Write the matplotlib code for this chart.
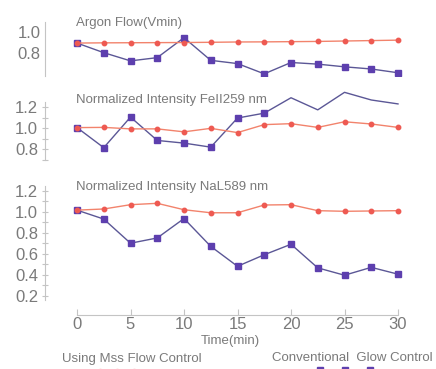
import matplotlib
matplotlib.use("Agg")
import matplotlib.pyplot as plt
from matplotlib.lines import Line2D

plt.rcParams['font.family'] = ['Liberation Sans', 'DejaVu Sans']

# ---- data ----
time_min = [0, 2.5, 5, 7.5, 10, 12.5, 15, 17.5, 20, 22.5, 25, 27.5, 30]
argon_mfc = [0.895, 0.897, 0.898, 0.899, 0.900, 0.902, 0.905, 0.906, 0.908, 0.910, 0.914, 0.918, 0.922]
argon_conv = [0.895, 0.806, 0.730, 0.760, 0.945, 0.735, 0.705, 0.610, 0.715, 0.700, 0.675, 0.655, 0.620]
fe_mfc = [1.005, 1.007, 0.993, 0.993, 0.965, 0.998, 0.958, 1.033, 1.042, 1.007, 1.060, 1.039, 1.007]
fe_conv = [1.005, 0.816, 1.104, 0.884, 0.859, 0.821, 1.095, 1.141, 1.286, 1.172, 1.337, 1.265, 1.228]
na_mfc = [1.015, 1.026, 1.067, 1.080, 1.019, 0.990, 0.990, 1.064, 1.067, 1.010, 1.004, 1.007, 1.010]
na_conv = [1.015, 0.930, 0.700, 0.750, 0.935, 0.670, 0.480, 0.590, 0.690, 0.465, 0.395, 0.470, 0.405]

titles = ["Argon Flow(Vmin)", "Normalized Intensity FeII259 nm", "Normalized Intensity NaL589 nm"]
x_ticks = [0, 5, 10, 15, 20, 25, 30]
legend_labels = ["Using Mss Flow Control", "Conventional  Glow Control"]

W, H = 436, 369
fig = plt.figure(figsize=(W / 100, H / 100), dpi=100)

ORANGE_LINE = '#f2836c'
ORANGE_MK = '#ee5a52'
BLUE_LINE = '#5b5796'
BLUE_MK = '#5d3fae'
GRAY = '#7a7a7a'
SPINE = '#c4c4c4'


def px_axes(x0, y0, x1, y1):
    return fig.add_axes([x0 / W, 1 - y1 / H, (x1 - x0) / W, (y1 - y0) / H])


X0, X1 = 45, 410
xscale = (398 - 77) / 30.0
xlim = (-(77 - X0) / xscale, 30 + (X1 - 398) / xscale)


def style(ax, ylim, yticks, ylabels, ticklen):
    ax.set_xlim(*xlim)
    ax.set_ylim(*ylim)
    ax.patch.set_alpha(0)
    for s in ['top', 'right', 'bottom']:
        ax.spines[s].set_visible(False)
    ax.spines['left'].set_color(SPINE)
    ax.spines['left'].set_linewidth(0.8)
    ax.set_yticks(yticks)
    ax.set_yticklabels(ylabels)
    ax.tick_params(axis='y', direction='inout', length=ticklen, width=0.8,
                   color=SPINE, labelcolor=GRAY, labelsize=12, pad=3)
    ax.tick_params(axis='x', bottom=False, labelbottom=False)


# top panel
ax1 = px_axes(X0, 22, X1, 76)
ax1.plot(time_min, argon_conv, color=BLUE_LINE, lw=1.0, marker='s', ms=3.8,
         mfc=BLUE_MK, mec=BLUE_MK, zorder=2)
ax1.plot(time_min, argon_mfc, color=ORANGE_LINE, lw=1.0, marker='o', ms=3.2,
         mfc=ORANGE_MK, mec=ORANGE_MK, zorder=3)
style(ax1, (0.59, 1.09), [0.8, 1.0], ['0.8', '1.0'], 0)

# middle panel
ax2 = px_axes(X0, 102, X1, 160)
ax2.plot(time_min, fe_conv, color=BLUE_LINE, lw=1.0, marker='s', ms=3.8,
         mfc=BLUE_MK, mec=BLUE_MK, markevery=list(range(0, 8)), zorder=2, clip_on=False)
ax2.plot(time_min, fe_mfc, color=ORANGE_LINE, lw=1.0, marker='o', ms=3.2,
         mfc=ORANGE_MK, mec=ORANGE_MK, zorder=3)
yt2 = [0.7, 0.8, 0.9, 1.0, 1.1, 1.2]
style(ax2, (0.707, 1.246), yt2, ['', '0.8', '', '1.0', '', '1.2'], 4)

# bottom panel
ax3 = px_axes(X0, 186, X1, 300)
ax3.plot(time_min, na_conv, color=BLUE_LINE, lw=1.0, marker='s', ms=3.8,
         mfc=BLUE_MK, mec=BLUE_MK, zorder=2)
ax3.plot(time_min, na_mfc, color=ORANGE_LINE, lw=1.0, marker='o', ms=3.2,
         mfc=ORANGE_MK, mec=ORANGE_MK, zorder=3)
yt3 = [0.2, 0.3, 0.4, 0.5, 0.6, 0.7, 0.8, 0.9, 1.0, 1.1, 1.2]
yl3 = ['0.2', '', '0.4', '', '0.6', '', '0.8', '', '1.0', '', '1.2']
style(ax3, (0.159, 1.245), yt3, yl3, 4)
# x axis below bottom panel
ax3.spines['bottom'].set_visible(True)
ax3.spines['bottom'].set_position(('outward', 10.8))
ax3.spines['bottom'].set_bounds(0, 30)
ax3.spines['bottom'].set_color(SPINE)
ax3.spines['bottom'].set_linewidth(0.8)
ax3.set_xticks(x_ticks)
ax3.set_xticklabels([str(t) for t in x_ticks])
ax3.tick_params(axis='x', bottom=True, labelbottom=True, direction='in', length=4,
                width=0.8, color=SPINE, labelcolor=GRAY, labelsize=12, pad=1.5)

# panel titles
for (ty, t) in zip([22.7, 100, 187.3], titles):
    fig.text(76 / W, 1 - ty / H, t, fontsize=9.5, color=GRAY, ha='left', va='center')

fig.text(230 / W, 1 - 341 / H, "Time(min)", fontsize=9.5, color=GRAY, ha='center', va='center')
fig.text(62 / W, 1 - 359 / H, legend_labels[0], fontsize=9.5, color=GRAY, ha='left', va='center')
fig.text(272 / W, 1 - 358 / H, legend_labels[1], fontsize=9.5, color=GRAY, ha='left', va='center')

# partially visible legend markers at bottom edge
fig.add_artist(Line2D([320 / W, 345 / W, 370 / W], [1 - 369.5 / H] * 3, transform=fig.transFigure,
                      ls='none', marker='s', ms=4, mfc=BLUE_MK, mec=BLUE_MK))
fig.add_artist(Line2D([100 / W, 117 / W, 134 / W], [1 - 371 / H] * 3, transform=fig.transFigure,
                      ls='none', marker='o', ms=3, mfc=ORANGE_MK, mec=ORANGE_MK, alpha=0.4))

fig.savefig("out.png", dpi=100)
